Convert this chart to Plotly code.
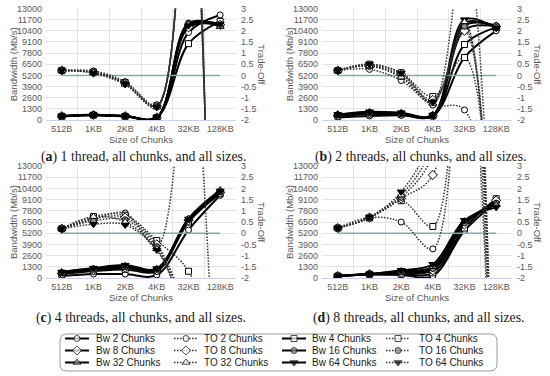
import plotly.graph_objects as go

# ---------------- data ----------------
categories = ["512B", "1KB", "2KB", "4KB", "32KB", "128KB"]
chunk_counts = [2, 4, 8, 16, 32, 64]

bw_ticks = [0, 1300, 2600, 3900, 5200, 6500, 7800, 9100, 10400, 11700, 13000]
bw_tick_labels = ["0", "1300", "2600", "3900", "5200", "6500", "7800", "9100", "10400", "11700", "13000"]
to_ticks = [-2, -1.5, -1, -0.5, 0, 0.5, 1, 1.5, 2, 2.5, 3]
to_tick_labels = ["-2", "-1.5", "-1", "-0.5", "0", "0.5", "1", "1.5", "2", "2.5", "3"]
zero_line = [0, 0, 0, 0, 0, 0]

# Bandwidth (Mb/s), one list per chunk count (2,4,8,16,32,64)
bw_1_thread = [
    [420, 560, 420, 280, 10200, 12250],
    [430, 570, 430, 290, 8900, 11500],
    [440, 580, 440, 300, 10800, 11100],
    [450, 590, 450, 300, 11300, 11000],
    [460, 600, 460, 310, 11200, 10900],
    [470, 610, 470, 320, 11000, 11200],
]
to_1_thread = [
    [0.22, 0.20, -0.28, -1.32, 9.0, -40],
    [0.22, 0.15, -0.32, -1.36, 9.5, -40],
    [0.22, 0.13, -0.35, -1.38, 10.0, -42],
    [0.22, 0.12, -0.38, -1.40, 10.5, -42],
    [0.22, 0.12, -0.40, -1.42, 11.0, -44],
    [0.22, 0.10, -0.40, -1.42, 11.5, -44],
]
bw_2_threads = [
    [300, 470, 550, 450, 7300, 10400],
    [450, 700, 650, 480, 8800, 10800],
    [550, 800, 700, 500, 10500, 10900],
    [600, 850, 750, 520, 11000, 11000],
    [620, 900, 800, 540, 11300, 10800],
    [650, 970, 850, 560, 11700, 10700],
]
to_2_threads = [
    [0.22, 0.27, -0.23, -1.33, -1.55, -20],
    [0.22, 0.50, 0.12, -0.95, 0.8, -14],
    [0.22, 0.45, 0.05, -1.10, 2.0, -14],
    [0.22, 0.42, -0.05, -1.20, 2.2, -14],
    [0.22, 0.42, -0.08, -1.25, 2.4, -14],
    [0.22, 0.50, 0.10, -1.20, 6.0, -14],
]
bw_4_threads = [
    [230, 460, 460, 350, 5570, 9600],
    [450, 800, 1000, 800, 6500, 9800],
    [550, 900, 1200, 900, 6700, 9900],
    [600, 1000, 1300, 1000, 6800, 10000],
    [650, 1100, 1400, 1050, 6900, 10200],
    [700, 1150, 1500, 1100, 6850, 10100],
]
to_4_threads = [
    [0.20, 0.62, 0.90, -0.60, 8.0, -14],
    [0.20, 0.74, 0.80, -0.33, -1.7, -6],
    [0.20, 0.65, 0.70, -0.50, -3.5, -6],
    [0.20, 0.55, 0.60, -0.60, -3.6, -6],
    [0.20, 0.74, 0.50, -0.70, -3.8, -6],
    [0.20, 0.40, 0.37, -0.75, -3.9, -6],
]
bw_8_threads = [
    [230, 400, 350, 250, 5500, 8800],
    [230, 430, 450, 600, 5800, 9200],
    [230, 440, 600, 900, 6200, 9000],
    [240, 450, 700, 1100, 6400, 8700],
    [240, 460, 800, 1300, 6600, 8500],
    [250, 470, 900, 1600, 6700, 8200],
]
to_8_threads = [
    [0.23, 0.70, 0.50, -0.70, 10, -14],
    [0.23, 0.68, 1.45, 0.30, 12, -14],
    [0.23, 0.70, 1.55, 2.60, 14, -14],
    [0.23, 0.70, 1.60, 3.50, 15, -14],
    [0.23, 0.72, 1.70, 4.00, 16, -14],
    [0.23, 0.72, 1.85, 4.50, 17, -14],
]

captions = [
    "(<b>a</b>) 1 thread, all chunks, and all sizes.",
    "(<b>b</b>) 2 threads, all chunks, and all sizes.",
    "(<b>c</b>) 4 threads, all chunks, and all sizes.",
    "(<b>d</b>) 8 threads, all chunks, and all sizes.",
]

# ---------------- styling / layout ----------------
W, H = 550, 376
def px(x):
    return x / W
def py(y):
    return 1 - y / H

SANS = "Liberation Sans, Arial, sans-serif"
SERIF = "Liberation Serif, Times New Roman, serif"
TICK_COLOR = "#595959"
GRID = "#e4e4e4"
DOT = "1.5px,1.5px"
tickfont = dict(family=SANS, size=9, color=TICK_COLOR)

panel_boxes = [(46, 236, 8.5, 120), (322, 512, 8.5, 120),
               (46, 236, 166, 278), (322, 512, 166, 278)]
caption_pos = [(143, 157), (421, 157), (141, 318), (419, 318)]
panel_data = [(bw_1_thread, to_1_thread), (bw_2_threads, to_2_threads),
              (bw_4_threads, to_4_threads), (bw_8_threads, to_8_threads)]

bw_style = {2: ("circle", "white", 6), 4: ("square", "white", 6), 8: ("diamond", "white", 7),
            16: ("circle", "#8c8c8c", 6), 32: ("triangle-up", "#8c8c8c", 7), 64: ("triangle-down", "black", 7)}
to_style = {2: ("circle", "white", 6), 4: ("square", "white", 6), 8: ("diamond", "white", 7),
            16: ("circle", "#8c8c8c", 6), 32: ("triangle-up", "white", 7), 64: ("triangle-down", "black", 7)}

fig = go.Figure()
layout = dict(width=W, height=H, margin=dict(l=0, r=0, t=0, b=0, autoexpand=False),
              paper_bgcolor="white", plot_bgcolor="rgba(0,0,0,0)", showlegend=False,
              hovermode=False)
annotations = []
shapes = []

def note(x, y, text, size, family=SANS, color=TICK_COLOR, angle=0, xanchor="center"):
    annotations.append(dict(x=px(x), y=py(y), xref="paper", yref="paper", text=text,
                            textangle=angle, showarrow=False, xanchor=xanchor, yanchor="middle",
                            font=dict(family=family, size=size, color=color)))

for p, (x0, x1, yt, yb) in enumerate(panel_boxes):
    xref = "x" if p == 0 else f"x{p + 1}"
    ylref = "y" if p == 0 else f"y{2 * p + 1}"
    yrref = f"y{2 * p + 2}"
    xname = "xaxis" if p == 0 else f"xaxis{p + 1}"
    ylname = "yaxis" if p == 0 else f"yaxis{2 * p + 1}"
    yrname = f"yaxis{2 * p + 2}"

    layout[xname] = dict(domain=[px(x0), px(x1)], anchor=ylref, type="category",
                         categoryorder="array", categoryarray=categories, range=[-0.5, 5.5],
                         tickson="boundaries", showgrid=True, gridcolor=GRID, gridwidth=1,
                         showline=True, linecolor="#c5d4ec", linewidth=1, ticks="",
                         tickangle=0, automargin=False,
                         tickfont=tickfont, ticklabelstandoff=0, fixedrange=True)
    layout[ylname] = dict(domain=[py(yb), py(yt)], anchor=xref, range=[0, 13000],
                          tickvals=bw_ticks, ticktext=bw_tick_labels, showgrid=True,
                          gridcolor=GRID, zeroline=False, ticks="", tickfont=tickfont,
                          automargin=False, ticklabelstandoff=3, fixedrange=True)
    layout[yrname] = dict(overlaying=ylref, side="right", anchor=xref, range=[-2, 3],
                          tickvals=to_ticks, ticktext=to_tick_labels, showgrid=False,
                          zeroline=False, ticks="", tickfont=tickfont, ticklabelstandoff=4,
                          automargin=False, fixedrange=True)

    bw, to = panel_data[p]
    fig.add_trace(go.Scatter(x=categories, y=zero_line, xaxis=xref, yaxis=yrref, mode="lines",
                             line=dict(color="#8ea7a7", width=1.5), hoverinfo="skip"))
    for k, n in enumerate(chunk_counts):
        sym, fill, size = to_style[n]
        fig.add_trace(go.Scatter(
            x=categories, y=to[k], xaxis=xref, yaxis=yrref, mode="lines+markers",
            name=f"TO {n} Chunks",
            line=dict(color="#333333", width=1.5, dash=DOT, shape="spline"),
            marker=dict(symbol=sym, color=fill, size=size, line=dict(color="black", width=1))))
    for k, n in enumerate(chunk_counts):
        sym, fill, size = bw_style[n]
        fig.add_trace(go.Scatter(
            x=categories, y=bw[k], xaxis=xref, yaxis=ylref, mode="lines+markers",
            name=f"Bw {n} Chunks",
            line=dict(color="black", width=2, shape="spline"),
            marker=dict(symbol=sym, color=fill, size=size, line=dict(color="black", width=1))))

    note(x0 - 33, (yt + yb) / 2, "Bandwidth (Mb/s)", 9.5, angle=-90)
    note(x1 + 26, (yt + yb) / 2, "Trade-Off", 9.5, angle=90)
    note((x0 + x1) / 2, yb + 19, "Size of Chunks", 9.5)
    cx, cy = caption_pos[p]
    note(cx, cy, captions[p], 13.8, family=SERIF, color="#1a1a1a")

# ---------------- legend (drawn manually in a pixel-space overlay axis) ----------------
layout["xaxis5"] = dict(domain=[0, 1], range=[0, W], visible=False, anchor="y9",
                        automargin=False, fixedrange=True)
layout["yaxis9"] = dict(domain=[0, 1], range=[H, 0], visible=False, anchor="x5",
                        automargin=False, fixedrange=True)

bx0, bx1, by0, by1, r = 60, 497, 334, 371, 7
rx, ry = r / W, r / H
path = (f"M {px(bx0) + rx},{py(by0)} L {px(bx1) - rx},{py(by0)} "
        f"Q {px(bx1)},{py(by0)} {px(bx1)},{py(by0) - ry} "
        f"L {px(bx1)},{py(by1) + ry} Q {px(bx1)},{py(by1)} {px(bx1) - rx},{py(by1)} "
        f"L {px(bx0) + rx},{py(by1)} Q {px(bx0)},{py(by1)} {px(bx0)},{py(by1) + ry} "
        f"L {px(bx0)},{py(by0) - ry} Q {px(bx0)},{py(by0)} {px(bx0) + rx},{py(by0)} Z")
shapes.append(dict(type="path", path=path, xref="paper", yref="paper",
                   line=dict(color="#9a9a9a", width=1), fillcolor="white", layer="below"))

col_sym_x = [65, 173, 282, 385]
col_txt_x = [94, 202, 310, 417]
row_y = [338.5, 350.5, 362.5]
legend_cols = [("Bw", [2, 8, 32]), ("TO", [2, 8, 32]), ("Bw", [4, 16, 64]), ("TO", [4, 16, 64])]
for c, (kind, ns) in enumerate(legend_cols):
    for rr, n in enumerate(ns):
        sym, fill, size = (bw_style if kind == "Bw" else to_style)[n]
        xs = col_sym_x[c]
        yv = row_y[rr]
        if kind == "Bw":
            ln = dict(color="black", width=2)
            seg = [xs, xs + 12, xs + 24]
        else:
            ln = dict(color="#333333", width=1.5, dash=DOT)
            seg = [xs + 1, xs + 13, xs + 25]
        fig.add_trace(go.Scatter(x=seg, y=[yv, yv, yv], xaxis="x5", yaxis="y9",
                                 mode="lines+markers", line=ln, hoverinfo="skip",
                                 marker=dict(symbol=sym, color=fill, size=[0, size, 0],
                                             line=dict(color="black", width=1))))
        note(col_txt_x[c], yv, f"{kind} {n} Chunks", 10, color="#1a1a1a", xanchor="left")

layout["annotations"] = annotations
layout["shapes"] = shapes
fig.update_layout(**layout)
fig.write_html("out.html", config={"displayModeBar": False, "staticPlot": True},
               post_script="document.body.style.margin='0px';")
